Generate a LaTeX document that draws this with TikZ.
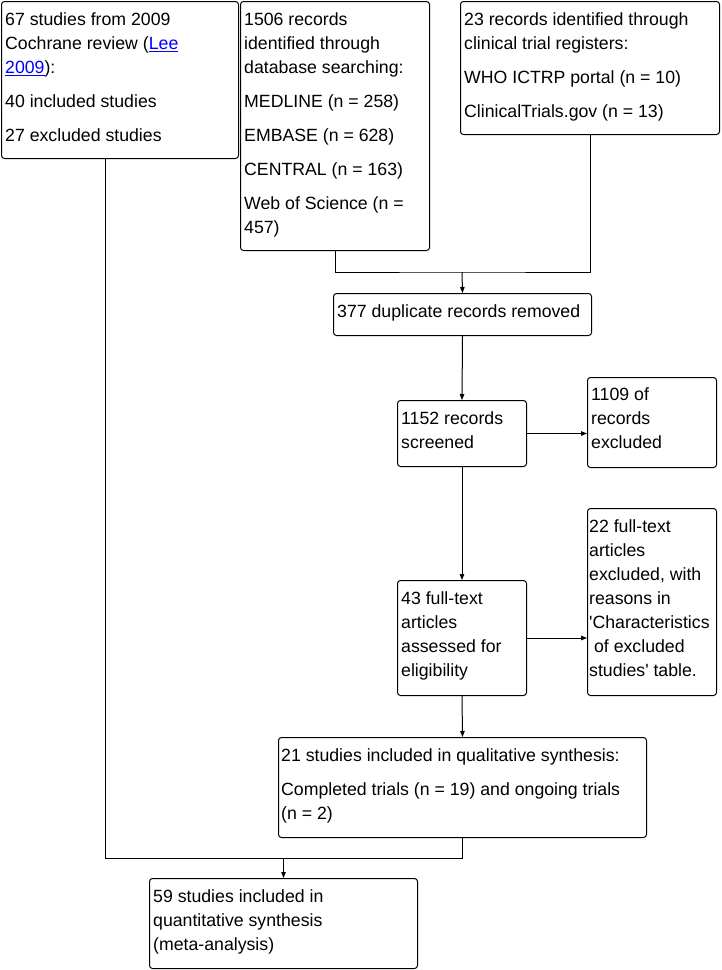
\documentclass[tikz,border=0pt]{standalone}
\usepackage{fontspec}
\usetikzlibrary{arrows.meta}
\newfontfamily\arialf{Liberation Sans}
\definecolor{linkblue}{RGB}{0,0,255}
\newcommand\lnk[1]{\textcolor{linkblue}{\underline{#1}}}
\newcommand\fstrut{\rule{0pt}{13.5pt}}
\begin{document}
\begin{tikzpicture}[x=1pt,y=-1pt,
  box/.style={draw=black, line width=1pt, rounded corners=3pt, inner sep=0pt, anchor=north west},
  txt/.style={anchor=north west, inner sep=0pt, align=left, font=\arialf\fontsize{17.7}{24}\selectfont},
  arr/.style={line width=1pt, -{Triangle[length=6pt,width=4.5pt]}},
  ln/.style={line width=1pt}]
\useasboundingbox (0,0) rectangle (722,970);
% boxes
\node[box, minimum width=237pt, minimum height=157pt] (A) at (1,1) {};
\node[box, minimum width=189pt, minimum height=249pt] (B) at (240,1) {};
\node[box, minimum width=259pt, minimum height=133pt] (C) at (460,1) {};
\node[box, minimum width=258pt, minimum height=42pt] (D) at (333,293) {};
\node[box, minimum width=129pt, minimum height=66pt] (E) at (397,400) {};
\node[box, minimum width=129pt, minimum height=90pt] (F) at (587,377) {};
\node[box, minimum width=129pt, minimum height=115pt] (G) at (397,580) {};
\node[box, minimum width=129pt, minimum height=187pt] (H) at (587,508) {};
\node[box, minimum width=368pt, minimum height=100pt] (I) at (278,737) {};
\node[box, minimum width=268pt, minimum height=90pt] (J) at (149,878) {};
% texts
\node[txt] (At) at ([shift={(4,11)}]A.north west) {\fstrut 67 studies from 2009\\Cochrane review (\lnk{Lee}\\\lnk{2009}):\\[10pt]40 included studies\\[10pt]27 excluded studies};
\node[txt] (Bt) at ([shift={(4,11)}]B.north west) {\fstrut 1506 records\\identified through\\database searching:\\[10pt]MEDLINE (n = 258)\\[10pt]EMBASE (n = 628)\\[10pt]CENTRAL (n = 163)\\[10pt]Web of Science (n =\\457)};
\node[txt] (Ct) at ([shift={(4,11)}]C.north west) {\fstrut 23 records identified through\\clinical trial registers:\\[10pt]WHO ICTRP portal (n = 10)\\[10pt]ClinicalTrials.gov (n = 13)};
\node[txt] (Dt) at ([shift={(4,10.5)}]D.north west) {\fstrut 377 duplicate records removed};
\node[txt] (Et) at ([shift={(4,11)}]E.north west) {\fstrut 1152 records\\screened};
\node[txt] (Ft) at ([shift={(4,10)}]F.north west) {\fstrut 1109 of\\records\\excluded};
\node[txt] (Gt) at ([shift={(4,11)}]G.north west) {\fstrut 43 full-text\\articles\\assessed for\\eligibility};
\node[txt] (Ht) at ([shift={(2,11)}]H.north west) {\fstrut 22 full-text\\articles\\excluded, with\\reasons in\\'Characteristics\\\hspace*{0.278em}of excluded\\studies' table.};
\node[txt] (It) at ([shift={(3,10.5)}]I.north west) {\fstrut 21 studies included in qualitative synthesis:\\[10pt]Completed trials (n = 19) and ongoing trials\\(n = 2)};
\node[txt] (Jt) at ([shift={(4,10.5)}]J.north west) {\fstrut 59 studies included in\\quantitative synthesis\\(meta-analysis)};
% connectors
\coordinate (m2) at (462,272);
\draw[ln] (B.south) |- (m2) -| (C.south);
\draw[arr] (m2) -- (D.north);
\draw[arr] (D.south) -- (E.north);
\draw[arr] (E.east) -- (E.east -| F.west);
\draw[arr] (E.south) -- (G.north);
\draw[arr] (G.east) -- (G.east -| H.west);
\draw[arr] (G.south) -- (I.north);
\coordinate (m1) at (105,858);
\draw[ln] (A.south -| m1) -- (m1) -- (m1 -| I.south) -- (I.south);
\draw[arr] (m1 -| J.north) -- (J.north);
\end{tikzpicture}
\end{document}
